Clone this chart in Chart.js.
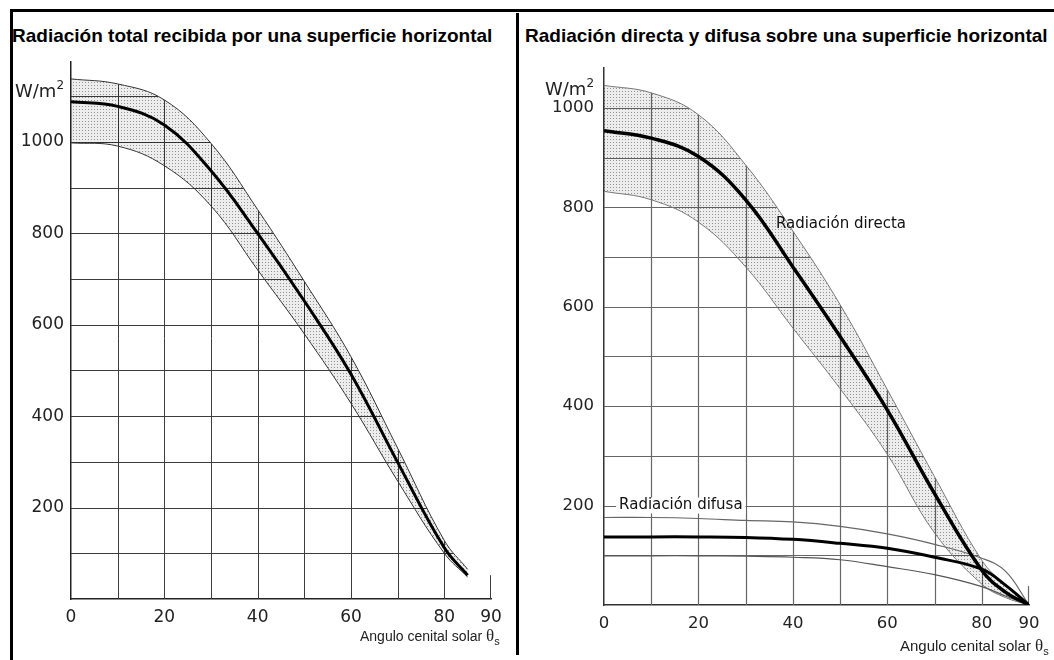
<!DOCTYPE html>
<html>
<head>
<meta charset="utf-8">
<script src="https://cdn.jsdelivr.net/npm/chart.js@4.4.1/dist/chart.umd.min.js"></script>
<style>
  html, body { margin:0; padding:0; background:#fff; }
  body { width:1054px; height:660px; position:relative; overflow:hidden; font-family:"Liberation Sans", Arial, sans-serif; }
  .frame-top { position:absolute; left:10px; top:9px; width:1044px; height:3px; background:#000; }
  .frame-left { position:absolute; left:10px; top:9px; width:3px; height:651px; background:#000; }
  .divider { position:absolute; left:516px; top:13px; width:3px; height:642px; background:#000; }
  .title { position:absolute; top:25px; font-weight:bold; font-size:19px; line-height:22px; color:#000; white-space:nowrap; }
  .unit { position:absolute; font-family:"DejaVu Sans", sans-serif; font-size:18px; line-height:20px; color:#222; }
  .unit sup { font-size:12px; position:relative; top:-1px; }
  .xname { position:absolute; font-size:14px; line-height:18px; color:#222; white-space:nowrap; }
  .xname .th { font-family:"Liberation Serif", serif; font-size:17px; }
  .xname sub { font-size:11px; }
  canvas { position:absolute; top:0; }
</style>
</head>
<body>
<div class="frame-top"></div>
<div class="frame-left"></div>
<div class="divider"></div>

<div class="title" style="left:12px">Radiación total recibida por una superficie horizontal</div>
<div class="title" style="left:525px">Radiación directa y difusa sobre una superficie horizontal</div>

<canvas id="left" width="516" height="660" style="left:0"></canvas>
<canvas id="right" width="535" height="660" style="left:519px"></canvas>

<div class="unit" style="left:15px;top:76px">W/m<sup>2</sup></div>
<div class="unit" style="left:545px;top:74px">W/m<sup>2</sup></div>
<div class="xname" style="left:360px;top:627px">Angulo cenital solar <span class="th">θ</span><sub>s</sub></div>
<div class="xname" style="left:900px;top:637px;font-size:15px">Angulo cenital solar <span class="th">θ</span><sub>s</sub></div>

<script>
// --- datos (ángulo cenital en grados, W/m2) ---
const totalAngles = [0, 10, 20, 30, 40, 50, 60, 70, 80, 85];
const totalUpper  = [1138, 1127, 1092, 997, 852, 695, 530, 330, 128, 65];
const totalMean   = [1088, 1078, 1037, 937, 800, 652, 492, 299, 112, 52];
const totalLower  = [998, 991, 948, 860, 720, 580, 428, 258, 100, 48];

const splitAngles  = [0, 10, 20, 30, 40, 50, 60, 70, 80, 85, 90];
const directUpper  = [1045, 1030, 986, 885, 752, 604, 433, 258, 90, 40, 0];
const directMean   = [954, 939, 902, 815, 680, 540, 392, 224, 70, 26, 0];
const directLower  = [832, 815, 770, 680, 557, 435, 303, 145, 42, 15, 0];
const diffuseUpper = [176, 176, 174, 170, 167, 158, 143, 122, 94, 68, 0];
const diffuseMean  = [137, 137, 137, 136, 132, 124, 114, 96, 72, 40, 0];
const diffuseLower = [99, 99, 99, 98, 96, 91, 77, 61, 37, 18, 0];

const xTickLabels = [0, 20, 40, 60, 80, 90];
const yTickLabels = [200, 400, 600, 800, 1000];

const pts = (xs, ys) => xs.map((a, i) => ({ x: a, y: ys[i] }));

function stipple(canvas) {
  const c = document.createElement("canvas");
  c.width = 3; c.height = 3;
  const g = c.getContext("2d");
  g.fillStyle = "rgba(0,0,0,0.07)"; g.fillRect(0, 0, 3, 3);
  g.fillStyle = "rgba(0,0,0,0.38)"; g.fillRect(1, 1, 1, 1);
  return canvas.getContext("2d").createPattern(c, "repeat");
}

// grid only below the upper envelope curve, plus the short end tick at 90
const gridUnder = {
  id: "gridUnder",
  beforeDatasetsDraw(chart, args, o) {
    const { ctx, chartArea: a, scales: { x, y } } = chart;
    const p = chart.getDatasetMeta(o.envelope).data;
    ctx.save();
    ctx.beginPath();
    ctx.moveTo(p[0].x, a.bottom);
    ctx.lineTo(p[0].x, p[0].y);
    for (let i = 1; i < p.length; i++) {
      const s = p[i - 1], t = p[i];
      ctx.bezierCurveTo(s.cp2x ?? s.x, s.cp2y ?? s.y, t.cp1x ?? t.x, t.cp1y ?? t.y, t.x, t.y);
    }
    ctx.lineTo(p[p.length - 1].x, a.bottom);
    ctx.closePath();
    ctx.clip();
    ctx.strokeStyle = o.color; ctx.lineWidth = o.width;
    ctx.beginPath();
    x.ticks.forEach(t => {
      if (t.value <= x.min || t.value >= x.max) return;
      const px = Math.round(x.getPixelForValue(t.value)) + 0.5;
      ctx.moveTo(px, a.top); ctx.lineTo(px, a.bottom);
    });
    y.ticks.forEach(t => {
      if (t.value <= y.min) return;
      const py = Math.round(y.getPixelForValue(t.value)) + 0.5;
      ctx.moveTo(a.left, py); ctx.lineTo(a.right, py);
    });
    ctx.stroke();
    ctx.restore();

    const ex = Math.round(x.getPixelForValue(x.max)) - 0.5;
    ctx.save();
    ctx.strokeStyle = o.color; ctx.lineWidth = o.width;
    ctx.beginPath();
    ctx.moveTo(ex, a.bottom); ctx.lineTo(ex, y.getPixelForValue(o.endTick));
    ctx.stroke();
    ctx.restore();
  }
};

const curveLabels = {
  id: "curveLabels",
  afterDatasetsDraw(chart, args, o) {
    if (!o.items) return;
    const { ctx, scales: { x, y } } = chart;
    ctx.save();
    ctx.font = o.font;
    ctx.textBaseline = "middle";
    ctx.textAlign = "left";
    o.items.forEach(it => {
      const px = x.getPixelForValue(it.x), py = y.getPixelForValue(it.y);
      const w = ctx.measureText(it.text).width;
      if (it.box) { ctx.fillStyle = "#fff"; ctx.fillRect(px - 3, py - 8, w + 6, 16); }
      ctx.fillStyle = "#111";
      ctx.fillText(it.text, px, py);
    });
    ctx.restore();
  }
};

function line(data, color, width, order, extra) {
  return Object.assign({ data, borderColor: color, borderWidth: width, order,
    pointRadius: 0, fill: false, tension: 0.4 }, extra || {});
}

function options(cfg) {
  return {
    responsive: false,
    animation: false,
    devicePixelRatio: 1,
    layout: { padding: cfg.padding },
    plugins: {
      legend: { display: false },
      tooltip: { enabled: false },
      gridUnder: cfg.grid,
      curveLabels: cfg.labels || {}
    },
    scales: {
      x: {
        type: "linear", min: 0, max: 90,
        grid: { display: false, drawTicks: false },
        border: { display: true, color: cfg.axisColor, width: 1.5 },
        afterFit: s => { s.height = 40; },
        ticks: {
          stepSize: 10, autoSkip: false, maxRotation: 0, padding: cfg.xPad,
          color: "#222", font: { family: "DejaVu Sans", size: cfg.fontSize },
          callback: v => xTickLabels.includes(v) ? String(v) : ""
        }
      },
      y: {
        min: 0, max: cfg.yMax,
        grid: { display: false, drawTicks: false },
        border: { display: true, color: cfg.axisColor, width: 1.5 },
        afterFit: s => { s.width = cfg.yWidth; },
        ticks: {
          stepSize: 100, includeBounds: false, padding: cfg.yPad,
          color: "#222", font: { family: "DejaVu Sans", size: cfg.fontSize },
          callback: v => yTickLabels.includes(v) ? String(v) : ""
        }
      }
    }
  };
}

// --- izquierda: radiación total ---
const leftCanvas = document.getElementById("left");
new Chart(leftCanvas, {
  type: "line",
  data: {
    datasets: [
      line(pts(totalAngles, totalMean), "#000", 3, 0),
      line(pts(totalAngles, totalLower), "#333", 1, 1),
      line(pts(totalAngles, totalUpper), "#333", 1, 2, { fill: 1, backgroundColor: stipple(leftCanvas) })
    ]
  },
  options: options({
    padding: { left: 0, top: 62, right: 25, bottom: 21 },
    yWidth: 71, yMax: 1175, xPad: 8, yPad: 7, axisColor: "#222", fontSize: 17,
    grid: { envelope: 2, color: "#3c3c3c", width: 1, endTick: 52 }
  }),
  plugins: [gridUnder, curveLabels]
});

// --- derecha: radiación directa y difusa ---
const rightCanvas = document.getElementById("right");
new Chart(rightCanvas, {
  type: "line",
  data: {
    datasets: [
      line(pts(splitAngles, directMean), "#000", 3.5, 0),
      line(pts(splitAngles, diffuseMean), "#000", 3, 1),
      line(pts(splitAngles, diffuseUpper), "#666", 1.2, 2),
      line(pts(splitAngles, diffuseLower), "#555", 1.2, 3),
      line(pts(splitAngles, directLower), "#777", 1, 4),
      line(pts(splitAngles, directUpper), "#777", 1, 5, { fill: 4, backgroundColor: stipple(rightCanvas) })
    ]
  },
  options: options({
    padding: { left: 0, top: 68, right: 25, bottom: 15 },
    yWidth: 85, yMax: 1080, xPad: 9, yPad: 10, axisColor: "#333", fontSize: 16.5,
    grid: { envelope: 5, color: "#666", width: 1.2, endTick: 38 },
    labels: {
      font: "15px 'DejaVu Sans'",
      items: [
        { text: "Radiación directa", x: 36.4, y: 767 },
        { text: "Radiación difusa", x: 3.2, y: 200, box: true }
      ]
    }
  }),
  plugins: [gridUnder, curveLabels]
});
</script>
</body>
</html>
